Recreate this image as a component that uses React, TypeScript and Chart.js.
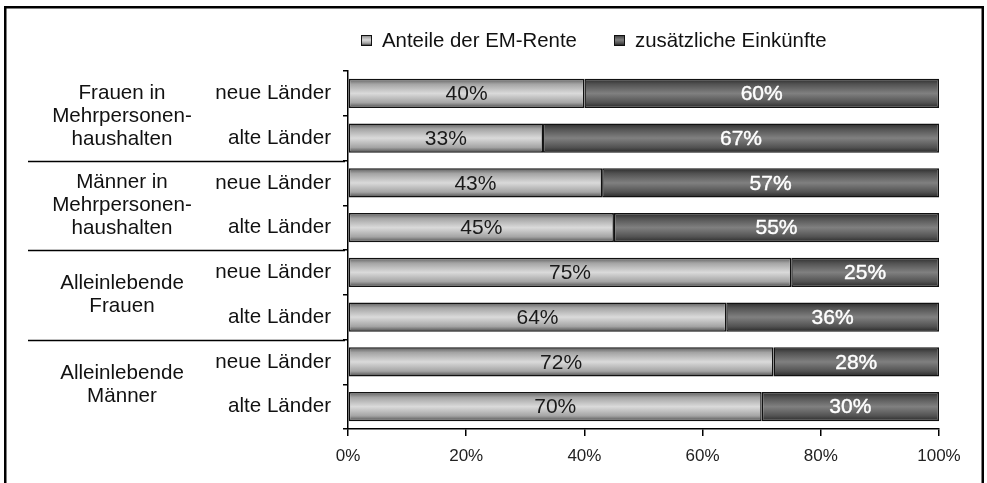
import React, { useEffect, useRef } from "react";
import { Chart, registerables } from "chart.js";

Chart.register(...registerables);

const rowLabels = [
  "neue Länder", "alte Länder",
  "neue Länder", "alte Länder",
  "neue Länder", "alte Länder",
  "neue Länder", "alte Länder",
];
const groupLabels = [
  ["Frauen in", "Mehrpersonen-", "haushalten"],
  ["Männer in", "Mehrpersonen-", "haushalten"],
  ["Alleinlebende", "Frauen"],
  ["Alleinlebende", "Männer"],
];
const rowsPerGroup = 2;
const seriesNames = ["Anteile der EM-Rente", "zusätzliche Einkünfte"];
const rentenAnteil = [40, 33, 43, 45, 75, 64, 72, 70];
const zusatzEinkuenfte = [60, 67, 57, 55, 25, 36, 28, 30];
const xTickValues = [0, 20, 40, 60, 80, 100];

const FONT = "'Liberation Sans', Arial, Helvetica, sans-serif";
const BAR_PCT = 0.65;

const lightStops: [number, string][] = [
  [0, "#5c5c5c"], [0.18, "#a4a4a4"], [0.5, "#dadada"], [0.82, "#a4a4a4"], [1, "#4a4a4a"],
];
const darkStops: [number, string][] = [
  [0, "#2c2c2c"], [0.18, "#525252"], [0.5, "#808080"], [0.82, "#525252"], [1, "#282828"],
];

function makeGrad(ctx: CanvasRenderingContext2D, y0: number, y1: number, stops: [number, string][]) {
  const g = ctx.createLinearGradient(0, y0, 0, y1);
  stops.forEach(([o, c]) => g.addColorStop(o, c));
  return g;
}

function barFill(stops: [number, string][], fallback: string) {
  return (context: any) => {
    const chart = context.chart;
    const ys = chart.scales && chart.scales.y;
    if (!ys || context.type !== "data" || !isFinite(ys.top) || !isFinite(ys.bottom)) return fallback;
    const c = ys.getPixelForValue(context.dataIndex);
    const h = ((ys.bottom - ys.top) / rowLabels.length) * BAR_PCT;
    if (!isFinite(c)) return fallback;
    return makeGrad(chart.ctx, c - h / 2, c + h / 2, stops);
  };
}

const framePlugin = {
  id: "frame",
  beforeDraw(chart: any) {
    const ctx = chart.ctx;
    ctx.save();
    ctx.fillStyle = "#ffffff";
    ctx.fillRect(0, 0, chart.width, chart.height);
    ctx.strokeStyle = "#000";
    ctx.lineWidth = 2.5;
    ctx.strokeRect(5.25, 7.25, chart.width - 9.5, chart.height + 20);
    ctx.restore();
  },
};

const groupPlugin = {
  id: "groups",
  afterDraw(chart: any) {
    const ctx = chart.ctx;
    const ys = chart.scales.y;
    const rowH = (ys.bottom - ys.top) / rowLabels.length;
    ctx.save();
    ctx.fillStyle = "#111";
    ctx.font = `20.6px ${FONT}`;
    ctx.textAlign = "center";
    ctx.textBaseline = "middle";
    const lineH = 23;
    groupLabels.forEach((lines, gi) => {
      const top = ys.top + gi * rowsPerGroup * rowH;
      const center = top + (rowsPerGroup * rowH) / 2;
      const start = center - ((lines.length - 1) * lineH) / 2;
      lines.forEach((ln, li) => ctx.fillText(ln, 122, start + li * lineH + 0.5));
      if (gi > 0) {
        ctx.strokeStyle = "#000";
        ctx.lineWidth = 1.5;
        ctx.beginPath();
        ctx.moveTo(28, Math.round(top) + 0.5);
        ctx.lineTo(ys.right - 3, Math.round(top) + 0.5);
        ctx.stroke();
      }
    });
    ctx.restore();
  },
};

const legendPlugin = {
  id: "customLegend",
  afterDraw(chart: any) {
    const ctx = chart.ctx;
    const items = [
      { x: 361, stops: lightStops },
      { x: 614, stops: darkStops },
    ];
    ctx.save();
    ctx.font = `20.4px ${FONT}`;
    ctx.textBaseline = "middle";
    ctx.textAlign = "left";
    items.forEach((it, i) => {
      const by = 35;
      ctx.fillStyle = makeGrad(ctx, by, by + 10, it.stops);
      ctx.fillRect(it.x, by, 10, 10);
      ctx.strokeStyle = "#111";
      ctx.lineWidth = 1;
      ctx.strokeRect(it.x + 0.5, by + 0.5, 10, 10);
      ctx.fillStyle = "#111";
      ctx.fillText(chart.data.datasets[i].label, it.x + 21, 41);
    });
    ctx.restore();
  },
};

const valueLabelPlugin = {
  id: "valueLabels",
  afterDatasetsDraw(chart: any) {
    const ctx = chart.ctx;
    ctx.save();
    ctx.textAlign = "center";
    ctx.textBaseline = "middle";
    chart.data.datasets.forEach((ds: any, di: number) => {
      const meta = chart.getDatasetMeta(di);
      meta.data.forEach((el: any, i: number) => {
        const cx = (el.x + el.base) / 2;
        const txt = `${ds.data[i]}%`;
        ctx.font = `21px ${FONT}`;
        if (di === 0) {
          ctx.fillStyle = "#1a1a1a";
          ctx.fillText(txt, cx, el.y + 1);
        } else {
          ctx.fillStyle = "#ffffff";
          ctx.strokeStyle = "#f4f4f4";
          ctx.lineWidth = 0.45;
          ctx.lineJoin = "round";
          ctx.strokeText(txt, cx, el.y + 1);
          ctx.fillText(txt, cx, el.y + 1);
        }
      });
    });
    ctx.restore();
  },
};

export default function App() {
  const ref = useRef<HTMLCanvasElement | null>(null);
  useEffect(() => {
    if (!ref.current) return;
    const chart = new Chart(ref.current, {
      type: "bar",
      data: {
        labels: rowLabels,
        datasets: [
          {
            label: seriesNames[0],
            data: rentenAnteil,
            backgroundColor: barFill(lightStops, "#b0b0b0"),
            borderColor: "#111",
            borderWidth: 1.5,
            borderSkipped: false,
            barPercentage: BAR_PCT,
            categoryPercentage: 1,
          },
          {
            label: seriesNames[1],
            data: zusatzEinkuenfte,
            backgroundColor: barFill(darkStops, "#555"),
            borderColor: "#111",
            borderWidth: 1.5,
            borderSkipped: false,
            barPercentage: BAR_PCT,
            categoryPercentage: 1,
          },
        ],
      },
      options: {
        indexAxis: "y",
        animation: false,
        responsive: false,
        maintainAspectRatio: false,
        layout: { padding: { top: 71, right: 48, left: 0, bottom: 0 } },
        plugins: {
          legend: { display: false },
          tooltip: { enabled: false },
        },
        scales: {
          x: {
            stacked: true,
            min: 0,
            max: 100,
            afterBuildTicks: (scale: any) => {
              scale.ticks = xTickValues.map((v) => ({ value: v }));
            },
            afterFit: (scale: any) => {
              scale.height = 54;
            },
            ticks: {
              callback: (v: any) => `${v}%`,
              color: "#222",
              font: { family: FONT, size: 17 },
              padding: 10,
              maxRotation: 0,
            },
            grid: {
              drawOnChartArea: false,
              drawTicks: true,
              tickLength: 7,
              color: "#000",
              lineWidth: 1.5,
            },
            border: { display: true, color: "#000", width: 1.5 },
          },
          y: {
            stacked: true,
            afterFit: (scale: any) => {
              scale.width = 348;
            },
            ticks: {
              color: "#111",
              font: { family: FONT, size: 20.6 },
              padding: 12,
            },
            grid: {
              drawOnChartArea: false,
              drawTicks: true,
              tickLength: 5,
              offset: true,
              color: "#000",
              lineWidth: 1.5,
            },
            border: { display: true, color: "#000", width: 1.5 },
          },
        },
      },
      plugins: [framePlugin, valueLabelPlugin, groupPlugin, legendPlugin],
    } as any);
    return () => chart.destroy();
  }, []);
  return (
    <div style={{ position: "fixed", left: 0, top: 0, width: 987, height: 483, background: "#fff" }}>
      <canvas ref={ref} width={987} height={483} style={{ display: "block", width: 987, height: 483 }} />
    </div>
  );
}
